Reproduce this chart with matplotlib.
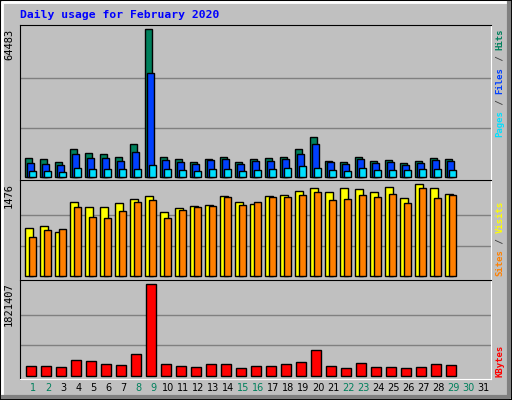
import matplotlib

matplotlib.use("Agg")
import matplotlib.pyplot as plt
import numpy as np
from matplotlib.patches import Rectangle

days = list(range(1, 32))
hits = [8024, 7587, 6274, 11964, 10213, 9775, 8462, 14152, 64483, 8462, 7587, 6274, 7587, 8462, 6274,
        7587, 8024, 8462, 11964, 17216, 6711, 6274, 8462, 6711, 7149, 5836, 6711, 8024, 7587]
files = [5836, 5398, 4961, 9775, 8024, 8024, 6711, 10651, 45229, 7149, 6274, 5398, 7149, 7587, 5398,
         6711, 6711, 7587, 9775, 14152, 6274, 5398, 7587, 5836, 6274, 4961, 5836, 7149, 6711]
pages = [2334, 2334, 1897, 3648, 3210, 3210, 3210, 3210, 4961, 3210, 2772, 2334, 3210, 3210, 2334,
         2772, 3210, 3648, 4523, 3648, 2772, 2334, 3648, 2772, 2772, 2772, 3210, 3210, 2772]
visits = [770, 802, 706, 1187, 1107, 1107, 1171, 1235, 1284, 1027, 1091, 1123, 1139, 1284, 1187,
          1155, 1284, 1300, 1364, 1412, 1348, 1412, 1396, 1348, 1428, 1251, 1476, 1412, 1316]
sites = [626, 738, 754, 1107, 947, 931, 1043, 1187, 1219, 931, 1059, 1107, 1123, 1267, 1139,
         1187, 1267, 1267, 1300, 1348, 1219, 1235, 1300, 1267, 1316, 1171, 1412, 1251, 1300]
kbytes = [186130, 186130, 166188, 305785, 285843, 226015, 206073, 425440, 1821407, 226015, 186130,
          166188, 226015, 226015, 146245, 186130, 186130, 226015, 265900, 505210, 186130, 146245,
          245958, 166188, 166188, 146245, 166188, 226015, 206073]
weekend = {1, 2, 8, 9, 15, 16, 22, 23, 29, 30}

BG = "#C0C0C0"
GREEN = "#00805C"
MONO = "DejaVu Sans Mono"
W, H = 512, 400

fig = plt.figure(figsize=(5.12, 4.0), dpi=100, facecolor=BG)

# bevelled frame
fig.patches.append(Rectangle((0, 0), 1, 1, transform=fig.transFigure, fill=False, ec="black", lw=1.5))
fig.add_artist(plt.Line2D([2 / W, 2 / W, 1 - 4 / W], [4 / H, 1 - 2 / H, 1 - 2 / H], color="white", lw=2))
fig.add_artist(plt.Line2D([3 / W, 1 - 3 / W, 1 - 3 / W], [3 / H, 3 / H, 1 - 3 / H], color="#808080", lw=3))


def px_axes(top, bottom):
    return fig.add_axes([20 / W, (H - bottom) / H, 471 / W, (bottom - top) / H])


def style(ax, vmax, lo, hi, label):
    ax.set_facecolor(BG)
    ax.set_xlim(0, 471 / 15)
    ax.set_ylim(lo, hi)
    ax.set_xticks([])
    ax.set_yticks([])
    for y in (vmax / 3, 2 * vmax / 3):
        ax.axhline(y, color="#808080", lw=1, zorder=0)
    for s in ("top", "left"):
        ax.spines[s].set_color("black")
    for s in ("bottom", "right"):
        ax.spines[s].set_color("white")
    ax.text(-6 / 471, 1 - 4 / 155, label, transform=ax.transAxes, rotation=90,
            ha="right", va="top", family=MONO, fontsize=7.5)


def right_label(y_bottom, parts):
    ch = 0.602 * 6.5 * 100 / 72
    y = y_bottom
    for txt, col in parts:
        fig.text(500 / W, (H - y) / H, txt, rotation=90, ha="center", va="bottom",
                 family=MONO, fontsize=6.5, color=col, fontweight="bold")
        y -= len(txt) * ch


x = np.arange(len(hits))
bar = dict(edgecolor="black", linewidth=1, align="edge")

ax1 = px_axes(24.7, 180.3)
style(ax1, 64483, -1576, 66497, "64483")
ax1.bar(x + 0.356, hits, 0.47, color=GREEN, **bar)
ax1.bar(x + 0.49, files, 0.47, color="#0040FF", **bar)
ax1.bar(x + 0.62, pages, 0.47, color="#00E0FF", **bar)
right_label(137, [("Pages", "#00E0FF"), (" / ", "#404040"), ("Files", "#0040FF"),
                  (" / ", "#404040"), ("Hits", GREEN)])

ax2 = px_axes(180.3, 279.7)
style(ax2, 1476, -55, 1540, "1476")
ax2.bar(x + 0.356, visits, 0.53, color="#FFFF00", **bar)
ax2.bar(x + 0.62, sites, 0.47, color="#FF8000", **bar)
right_label(276, [("Sites", "#FF8000"), (" / ", "#404040"), ("Visits", "#FFFF00")])

ax3 = px_axes(279.7, 379)
style(ax3, 1821407, -65800, 1913200, "1821407")
ax3.bar(x + 0.42, kbytes, 0.67, color="#FF0000", **bar)
right_label(377, [("KBytes", "#FF0000")])

for d in days:
    fig.text((20 + 15 * (d - 1) + 13.5) / W, (H - 388) / H, str(d), ha="center", va="center",
             fontsize=7, color=GREEN if d in weekend else "black")

fig.text(20 / W, (H - 15) / H, "Daily usage for February 2020", family=MONO, fontsize=8.2,
         fontweight="bold", color="#0000FF", va="center", ha="left")

fig.savefig("out.png", dpi=100, facecolor=BG)
